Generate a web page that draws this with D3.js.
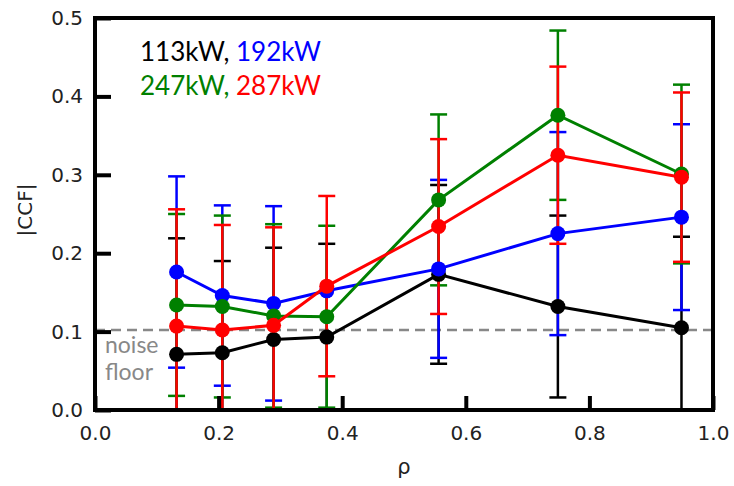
<!DOCTYPE html>
<html>
<head>
<meta charset="utf-8">
<script src="https://cdn.jsdelivr.net/npm/d3@7"></script>
<style>
  body { margin: 0; background: #fff; }
  svg { display: block; }
</style>
</head>
<body>
<div id="chart"></div>
<script>
// rho positions of the measurements
var rho = [0.132, 0.206, 0.289, 0.375, 0.556, 0.749, 0.949];

// |CCF| values and error half-widths per heating power
var ccf113 = [0.071, 0.073, 0.090, 0.093, 0.173, 0.132, 0.105];
var err113 = [0.148, 0.117, 0.117, 0.119, 0.114, 0.116, 0.116];
var ccf192 = [0.176, 0.146, 0.136, 0.152, 0.180, 0.225, 0.246];
var err192 = [0.122, 0.115, 0.124, null, 0.1135, 0.1295, 0.1185];
var ccf247 = [0.134, 0.132, 0.120, 0.119, 0.268, 0.376, 0.301];
var err247 = [0.116, 0.116, 0.117, 0.116, 0.109, 0.108, 0.114];
var ccf287 = [0.107, 0.102, 0.108, 0.158, 0.234, 0.325, 0.297];
var err287 = [0.149, 0.134, 0.125, 0.115, 0.1115, 0.113, 0.108];

var noiseFloor = 0.102;
var xTicks = [0, 0.2, 0.4, 0.6, 0.8, 1.0];
var yTicks = [0, 0.1, 0.2, 0.3, 0.4, 0.5];

var series = [
  {name: '113kW', color: '#000000', y: ccf113, err: err113},
  {name: '192kW', color: '#0000ff', y: ccf192, err: err192},
  {name: '247kW', color: '#008000', y: ccf247, err: err247},
  {name: '287kW', color: '#ff0000', y: ccf287, err: err287}
];

var width = 734, height = 486;
var x = d3.scaleLinear().domain([0, 1]).range([95, 713]);
var y = d3.scaleLinear().domain([0, 0.5]).range([410, 18]);

var svg = d3.select('#chart').append('svg')
    .attr('width', width)
    .attr('height', height);

svg.append('clipPath').attr('id', 'plotClip')
  .append('rect')
    .attr('x', x(0)).attr('y', y(0.5))
    .attr('width', x(1) - x(0)).attr('height', y(0) - y(0.5));

var plot = svg.append('g').attr('clip-path', 'url(#plotClip)');

// noise floor
plot.append('line')
    .attr('x1', x(0)).attr('x2', x(1))
    .attr('y1', y(noiseFloor)).attr('y2', y(noiseFloor))
    .attr('stroke', '#888')
    .attr('stroke-width', 2.5)
    .attr('stroke-dasharray', '10,6');

// error bars first, all series
var capW = 8.5;
series.forEach(function(s) {
  var g = plot.append('g');
  s.y.forEach(function(v, i) {
    if (s.err[i] == null) return;
    var cx = x(rho[i]);
    var lo = v - s.err[i], hi = v + s.err[i];
    g.append('line')
        .attr('x1', cx).attr('x2', cx)
        .attr('y1', y(lo)).attr('y2', y(hi))
        .attr('stroke', s.color).attr('stroke-width', 2.5);
    [lo, hi].forEach(function(c) {
      g.append('line')
          .attr('x1', cx - capW).attr('x2', cx + capW)
          .attr('y1', y(c)).attr('y2', y(c))
          .attr('stroke', s.color).attr('stroke-width', 2.5);
    });
  });
});

// lines and markers
var line = d3.line()
    .x(function(d, i) { return x(rho[i]); })
    .y(function(d) { return y(d); });

series.forEach(function(s) {
  plot.append('path')
      .datum(s.y)
      .attr('fill', 'none')
      .attr('stroke', s.color)
      .attr('stroke-width', 3)
      .attr('d', line);
  plot.selectAll(null)
      .data(s.y)
      .enter()
      .append('circle')
      .attr('cx', function(d, i) { return x(rho[i]); })
      .attr('cy', function(d) { return y(d); })
      .attr('r', 7.5)
      .attr('fill', s.color);
});

// axes with inward ticks
var xAxis = svg.append('g')
    .attr('transform', 'translate(0,' + y(0) + ')')
    .call(d3.axisBottom(x).tickValues(xTicks).tickFormat(d3.format('.1f'))
      .tickSizeInner(-14).tickSizeOuter(0).tickPadding(16));
var yAxis = svg.append('g')
    .attr('transform', 'translate(' + x(0) + ',0)')
    .call(d3.axisLeft(y).tickValues(yTicks).tickFormat(d3.format('.1f'))
      .tickSizeInner(-16).tickSizeOuter(0).tickPadding(12));

[xAxis, yAxis].forEach(function(a) {
  a.select('.domain').remove();
  a.selectAll('.tick line').attr('stroke', '#000').attr('stroke-width', 4);
  a.selectAll('.tick text')
      .attr('font-family', 'DejaVu Sans')
      .attr('font-size', 20)
      .attr('fill', '#222');
});

// frame
svg.append('rect')
    .attr('x', x(0)).attr('y', y(0.5))
    .attr('width', x(1) - x(0)).attr('height', y(0) - y(0.5))
    .attr('fill', 'none')
    .attr('stroke', '#000')
    .attr('stroke-width', 4);

// axis titles
svg.append('text')
    .attr('x', (x(0) + x(1)) / 2)
    .attr('y', 474)
    .attr('text-anchor', 'middle')
    .attr('font-family', 'DejaVu Sans')
    .attr('font-size', 21)
    .attr('fill', '#222')
    .text('ρ');

svg.append('text')
    .attr('transform', 'translate(32,' + 210 + ') rotate(-90)')
    .attr('text-anchor', 'middle')
    .attr('font-family', 'DejaVu Sans')
    .attr('font-size', 20)
    .attr('fill', '#222')
    .text('|CCF|');

// legend as colored text
var leg = svg.append('text')
    .attr('font-family', 'Lato')
    .attr('font-size', 26);
var l1 = leg.append('tspan').attr('x', 140).attr('y', 61);
l1.append('tspan').attr('fill', series[0].color).text(series[0].name + ', ');
l1.append('tspan').attr('fill', series[1].color).text(series[1].name);
var leg2 = svg.append('text')
    .attr('font-family', 'Lato')
    .attr('font-size', 26);
var l2 = leg2.append('tspan').attr('x', 140).attr('y', 95);
l2.append('tspan').attr('fill', series[2].color).text(series[2].name + ', ');
l2.append('tspan').attr('fill', series[3].color).text(series[3].name);

// noise floor label
var nf = svg.append('text')
    .attr('font-family', 'Lato')
    .attr('font-size', 23)
    .attr('fill', '#888');
nf.append('tspan').attr('x', 105).attr('y', 353).text('noise');
nf.append('tspan').attr('x', 105).attr('y', 380).text('floor');
</script>
</body>
</html>
